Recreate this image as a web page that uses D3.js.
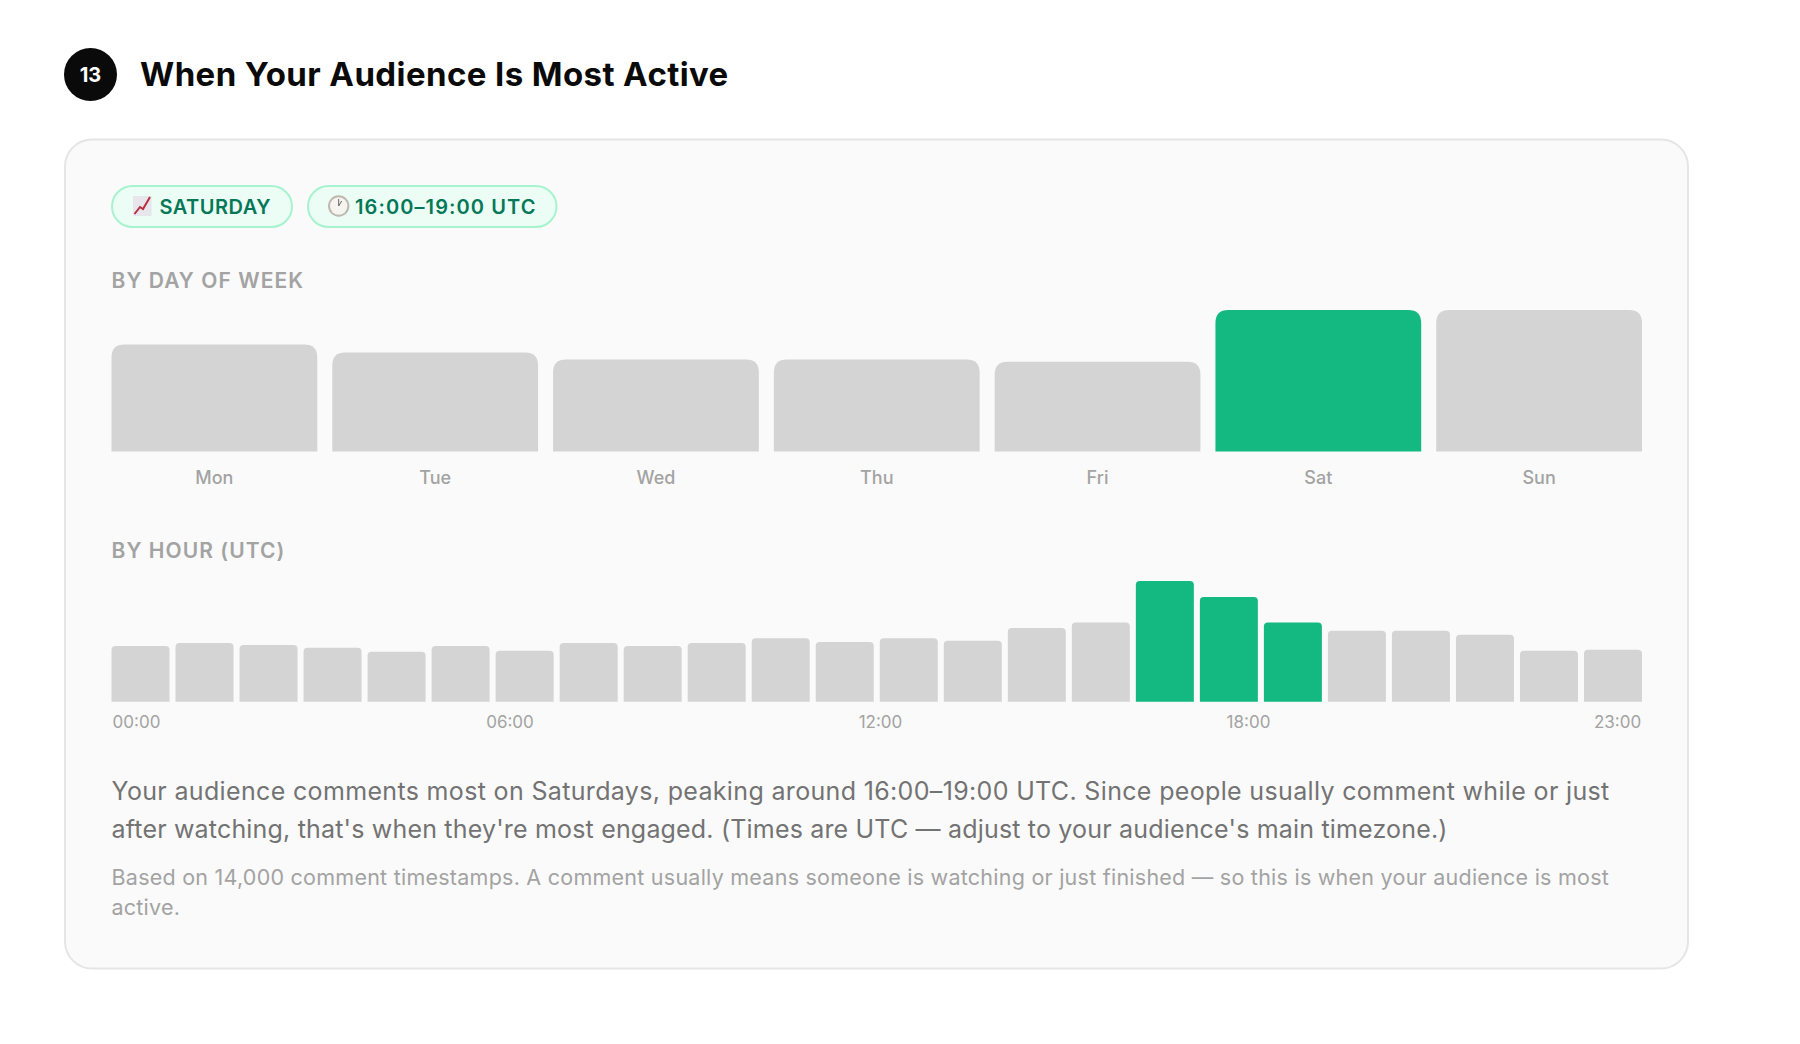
<!DOCTYPE html>
<html>
<head>
<meta charset="utf-8">
<script src="https://d3js.org/d3.v7.min.js"></script>
<style>
    html, body { margin: 0; background: #fff; }
    text { font-family: Inter, "Noto Sans", sans-serif; }
</style>
</head>
<body>
<div id="chart"></div>
<script>

    // day of week chart, share of the busiest day
    var days = ["Mon", "Tue", "Wed", "Thu", "Fri", "Sat", "Sun"];
    var dayValues = [75.6, 70, 65, 65, 63.4, 100, 100];
    var peakDays = ["Sat"];

    // hour chart, share of the busiest hour
    var hours = d3.range(24);
    var hourValues = [46.1, 48.6, 47, 44.8, 41.4, 46.1, 42.3, 48.6, 46.1, 48.6, 52.5, 49.4,
        52.5, 50.6, 61, 65.7, 100, 86.7, 65.7, 58.8, 58.8, 55.5, 42.3, 43.1];
    var peakHours = [16, 17, 18];
    var hourTicks = ["00:00", "06:00", "12:00", "18:00", "23:00"];

    var title = "When Your Audience Is Most Active";
    var bodyLines = ["Your audience comments most on Saturdays, peaking around 16:00–19:00 UTC. Since people usually comment while or just",
        "after watching, that's when they're most engaged. (Times are UTC — adjust to your audience's main timezone.)"];
    var noteLines = ["Based on 14,000 comment timestamps. A comment usually means someone is watching or just finished — so this is when your audience is most",
        "active."];

    var green = "#14b981", gray = "#d4d4d4", left = 111.5, right = 1642;

    var svg = d3.select("#chart").append("svg")
        .attr("width", 1800)
        .attr("height", 1044)
        .style("display", "block");

    // card
    svg.append("rect")
        .attr("x", 65).attr("y", 139.5)
        .attr("width", 1623).attr("height", 829)
        .attr("rx", 27)
        .attr("fill", "#fafafa")
        .attr("stroke", "#e5e5e5")
        .attr("stroke-width", 2);

    // numbered heading
    svg.append("circle").attr("cx", 90.5).attr("cy", 74.5).attr("r", 26.5).attr("fill", "#0a0a0a");
    svg.append("text").attr("x", 90.5).attr("y", 82)
        .attr("text-anchor", "middle")
        .attr("fill", "#fff")
        .style("font-size", "20px").style("font-weight", 700)
        .text("13");
    svg.append("text").attr("x", 140).attr("y", 85.5)
        .attr("fill", "#0a0a0a")
        .style("font-size", "33px").style("font-weight", 700)
        .style("letter-spacing", "0.4px")
        .text(title);

    // pills
    function pill(x, w, label, textX, spacing) {
        svg.append("rect")
            .attr("x", x).attr("y", 186)
            .attr("width", w).attr("height", 41)
            .attr("rx", 20.5)
            .attr("fill", "#ecfdf5")
            .attr("stroke", "#a7f3d0")
            .attr("stroke-width", 2);
        svg.append("text").attr("x", textX).attr("y", 213.5)
            .attr("fill", "#047857")
            .style("font-size", "20px").style("font-weight", 600)
            .style("letter-spacing", spacing + "px")
            .text(label);
    }
    pill(112, 180, "SATURDAY", 159.5, 0.5);
    pill(308, 248.5, "16:00–19:00 UTC", 355, 1.1);

    // chart emoji
    var icon = svg.append("g").attr("transform", "translate(133,196)");
    icon.append("rect").attr("width", 18.5).attr("height", 20).attr("fill", "#e6e6ec");
    icon.append("path")
        .attr("d", d3.line()([[1.5, 18], [7, 11], [10, 13], [17, 1]]))
        .attr("fill", "none").attr("stroke", "#b8303f").attr("stroke-width", 2);

    // clock emoji
    var clock = svg.append("g").attr("transform", "translate(338.7,206)");
    clock.append("circle").attr("r", 10.7).attr("fill", "#bdb9b0");
    clock.append("circle").attr("r", 8.7).attr("fill", "#f6f4ef");
    clock.append("path").attr("d", d3.line()([[0, -7], [0, 0], [3, -5]]))
        .attr("fill", "none").attr("stroke", "#666").attr("stroke-width", 1);

    function sectionLabel(y, label) {
        svg.append("text").attr("x", left).attr("y", y)
            .attr("fill", "#a3a3a3")
            .style("font-size", "21px").style("font-weight", 600)
            .style("letter-spacing", "1.05px")
            .text(label);
    }
    sectionLabel(288, "BY DAY OF WEEK");
    sectionLabel(558, "BY HOUR (UTC)");

    // bar with rounded top corners only
    function roundedTop(x, y, w, h, r) {
        return "M" + x + "," + (y + h) +
            "V" + (y + r) + "Q" + x + "," + y + " " + (x + r) + "," + y +
            "H" + (x + w - r) + "Q" + (x + w) + "," + y + " " + (x + w) + "," + (y + r) +
            "V" + (y + h) + "Z";
    }

    // by day of week
    var xDay = d3.scaleBand().domain(days).range([left, right]).paddingInner(0.068);
    var yDay = d3.scaleLinear().domain([0, 100]).range([451.5, 310]);

    svg.append("g").selectAll("path")
        .data(days)
        .enter()
        .append("path")
            .attr("d", function(d, i) {
                return roundedTop(xDay(d), yDay(dayValues[i]), xDay.bandwidth(), yDay(0) - yDay(dayValues[i]), 13);
            })
            .attr("fill", function(d) { return peakDays.indexOf(d) >= 0 ? green : gray; });

    var dayAxis = svg.append("g")
        .attr("transform", "translate(0,451.5)")
        .call(d3.axisBottom(xDay).tickSize(0).tickPadding(19.5));
    dayAxis.select(".domain").remove();
    dayAxis.selectAll("text")
        .attr("fill", "#a3a3a3")
        .style("font-size", "18px").style("font-weight", 500)
        .style("font-family", "Inter");

    // by hour
    var xHour = d3.scaleBand().domain(hours).range([left, right]).paddingInner(0.094);
    var yHour = d3.scaleLinear().domain([0, 100]).range([701.7, 581]);

    svg.append("g").selectAll("path")
        .data(hours)
        .enter()
        .append("path")
            .attr("d", function(d, i) {
                return roundedTop(xHour(d), yHour(hourValues[i]), xHour.bandwidth(), yHour(0) - yHour(hourValues[i]), 4);
            })
            .attr("fill", function(d) { return peakHours.indexOf(d) >= 0 ? green : gray; });

    // the labels are spread edge to edge, not under their own bars
    var xTick = d3.scaleOrdinal().domain(hourTicks).range([136, 509.5, 880, 1248, 1617]);
    var hourAxis = svg.append("g")
        .attr("transform", "translate(0,701.7)")
        .call(d3.axisBottom(xTick).tickSize(0).tickPadding(14));
    hourAxis.select(".domain").remove();
    hourAxis.selectAll("text")
        .attr("fill", "#a3a3a3")
        .style("font-size", "17px").style("font-weight", 400)
        .style("font-family", "Inter");

    // explanation
    svg.append("g").selectAll("text")
        .data(bodyLines)
        .enter()
        .append("text")
            .attr("x", left)
            .attr("y", function(d, i) { return 800 + i * 38; })
            .attr("fill", "#737373")
            .style("font-size", "25px")
            .style("letter-spacing", function(d, i) { return i == 0 ? "0.34px" : "0.18px"; })
            .text(function(d) { return d; });

    svg.append("g").selectAll("text")
        .data(noteLines)
        .enter()
        .append("text")
            .attr("x", left)
            .attr("y", function(d, i) { return 885 + i * 30; })
            .attr("fill", "#a3a3a3")
            .style("font-size", "21.5px")
            .style("letter-spacing", "0.244px")
            .text(function(d) { return d; });

</script>
</body>
</html>
